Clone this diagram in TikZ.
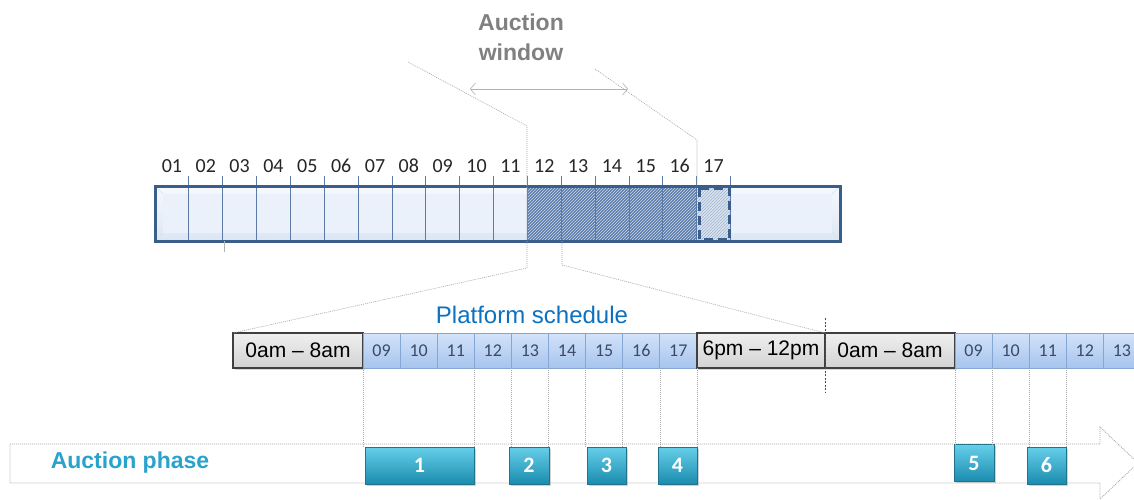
\documentclass[tikz,border=0pt]{standalone}
\usepackage{fontspec}
\setmainfont{Liberation Sans}
\newfontfamily\calibri{Carlito}
\usetikzlibrary{positioning,patterns,shadows,arrows.meta}

\definecolor{barblue}{HTML}{3A5E8C}
\definecolor{tickblue}{HTML}{5B7BA6}
\definecolor{bartop}{HTML}{F6F9FE}
\definecolor{barbot}{HTML}{DCE6F3}
\definecolor{barinner}{HTML}{EAF1FA}
\definecolor{hatchbase}{HTML}{5C7DAD}
\definecolor{winfill}{HTML}{DCE5F0}
\definecolor{slottop}{HTML}{D3E3FA}
\definecolor{slotbot}{HTML}{A6C4EE}
\definecolor{slotedge}{HTML}{86A7D6}
\definecolor{slottext}{HTML}{3C4A66}
\definecolor{schedblue}{HTML}{0B72C2}
\definecolor{phasetext}{HTML}{2AA3CC}
\definecolor{phasetop}{HTML}{66CFEA}
\definecolor{phasebot}{HTML}{1A8CAE}
\definecolor{phaseedge}{HTML}{23728C}

\tikzset{
  hour/.style={font=\calibri\fontsize{20}{20}\selectfont, text=black!85, inner sep=0pt},
  offbox/.style={draw=black!75, line width=1.2pt, top color=gray!12, bottom color=gray!35,
    minimum height=35pt, inner sep=0pt, outer sep=0pt, font=\fontsize{21}{21}\selectfont,
    drop shadow={opacity=0.3, shadow xshift=1.5pt, shadow yshift=-1.5pt}},
  slotbox/.style={draw=slotedge, line width=0.7pt, top color=slottop, bottom color=slotbot,
    minimum width=37.1pt, minimum height=35pt, inner sep=0pt, outer sep=0pt,
    font=\calibri\fontsize{18}{18}\selectfont, text=slottext},
  phasebox/.style={draw=phaseedge, line width=0.8pt, top color=phasetop, bottom color=phasebot,
    minimum height=37pt, inner sep=0pt, text=white, font=\calibri\bfseries\fontsize{22}{22}\selectfont,
    drop shadow={opacity=0.35, shadow xshift=1.5pt, shadow yshift=-1.5pt}},
  guide/.style={draw=gray!70, line width=0.6pt, dash pattern=on 1pt off 1pt},
}

\begin{document}
\begin{tikzpicture}[x=1pt,y=-1pt]
\fill[white] (0,0) rectangle (1134,500);
\useasboundingbox (0,0) rectangle (1134,500);

% auction window label and arrow
\node[font=\bfseries\fontsize{23}{30}\selectfont, text=black!50, align=center] (win) at (521,37) {Auction\\window};
\draw[gray!60, line width=0.6pt, {Straight Barb[length=5pt,width=12pt]}-{Straight Barb[length=5pt,width=12pt]}] (470,89) -- (628,89);

% top bar
\fill[top color=bartop, bottom color=barbot] (155,186) rectangle (840,241);
\fill[barinner] (163,194) rectangle (832,233);
\draw[white!80!barblue, line width=0.6pt] (157,188) -- (163,194) (157,239) -- (163,233)
  (838,188) -- (832,194) (838,239) -- (832,233);
\fill[hatchbase] (527,186) rectangle (697,241);
\fill[pattern=north east lines, pattern color=white!70!hatchbase] (527,186) rectangle (697,241);
\fill[winfill] (697,186) rectangle (731,241);
\fill[pattern=north east lines, pattern color=hatchbase!60] (697,186) rectangle (731,241);
\foreach \k in {1,...,17}
  \draw[tickblue, line width=0.8pt] ({155+\k*33.85},176) -- ({155+\k*33.85},241);
\foreach \h [count=\i] in {01,02,03,04,05,06,07,08,09,10,11,12,13,14,15,16,17}
  \node[hour] (c\h) at ({155+(\i-0.5)*33.85},166) {\h};
\draw[barblue, line width=3pt] (155,186) rectangle (840,241);
\draw[barblue, line width=3pt, dash pattern=on 9pt off 5pt] (699,188) rectangle (729.5,239.5);
\draw[gray!60, line width=0.5pt] (224,241) -- (224,252);

% platform schedule
\node[font=\fontsize{24}{24}\selectfont, text=schedblue] (sched) at (532,315) {Platform schedule};
\node[offbox, minimum width=130pt] (g1) at (298,350.5) {0am -- 8am};
\foreach \h [count=\i] in {09,10,11,12,13,14,15,16,17}
  \node[slotbox] (a\h) at ({344.45+\i*37.1},350.5) {\h};
\node[offbox, minimum width=128.1pt, right=0pt of a17] (g2) {6pm -- 12pm};
\node[offbox, minimum width=130pt, right=0pt of g2] (g3) {0am -- 8am};
\foreach \h [count=\i] in {09,10,11,12,13}
  \node[slotbox] (b\h) at ({936.45+\i*37.1},350.5) {\h};

% projection lines
\coordinate (p1) at (408,62);
\coordinate (p2) at (527,126);
\coordinate (p3) at (527,268);
\coordinate (q1) at (595,69);
\coordinate (q2) at (697,140);
\coordinate (q3) at (697,186);
\coordinate (r1) at (562,241);
\coordinate (r2) at (562,265);
\coordinate (d1) at (825,318);
\coordinate (d2) at (825,393);
\draw[guide] (p1) -- (p2) -- (p3) -- (g1.north west);
\draw[guide] (q1) -- (q2) -- (q3);
\draw[guide] (r1) -- (r2) -- (g2.north east);
\draw[black!70, line width=0.6pt, dash pattern=on 2pt off 1.5pt] (d1) -- (d2);

% auction phase band
\draw[guide, line width=0.8pt] (10,444) -- (1100,444) -- (1100,427) -- (1138,463)
  -- (1100,499) -- (1100,483) -- (10,483) -- cycle;
\node[font=\bfseries\fontsize{23}{23}\selectfont, text=phasetext] (phase) at (130,463) {Auction phase};
\node[phasebox, minimum width=109pt] (ph1) at (419.5,465.5) {1};
\node[phasebox, minimum width=40pt] (ph2) at (529,465.5) {2};
\node[phasebox, minimum width=39pt] (ph3) at (606.5,465.5) {3};
\node[phasebox, minimum width=39pt] (ph4) at (677.5,465.5) {4};
\node[phasebox, minimum width=40pt] (ph5) at (974,463) {5};
\node[phasebox, minimum width=39pt] (ph6) at (1046.5,465.5) {6};
\foreach \l/\r/\p in {a09/a11/ph1, a13/a13/ph2, a15/a15/ph3, a17/a17/ph4, b09/b09/ph5, b11/b11/ph6} {
  \draw[guide] (\l.south west) -- (\l.south west |- \p.north);
  \draw[guide] (\r.south east) -- (\r.south east |- \p.north);
}
\end{tikzpicture}
\end{document}
